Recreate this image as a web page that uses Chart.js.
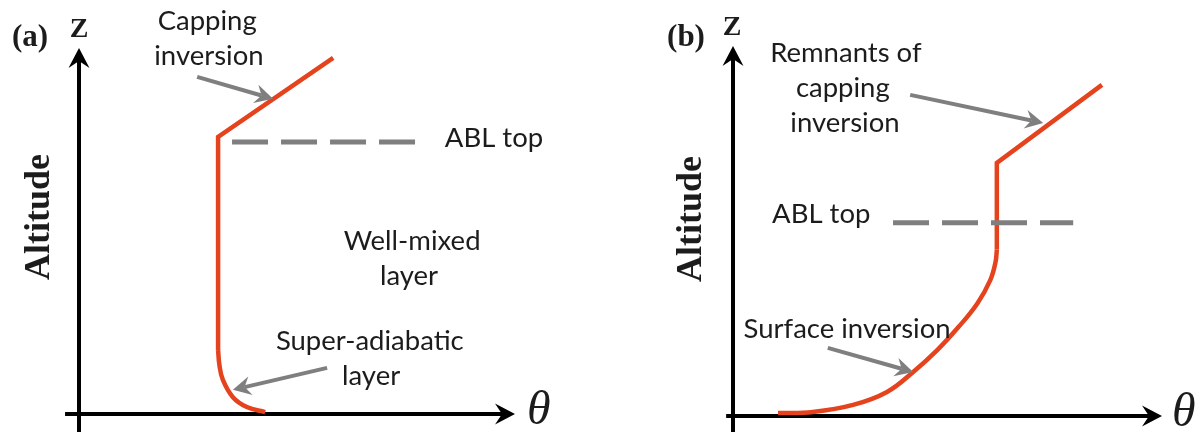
<!DOCTYPE html>
<html>
<head>
<meta charset="utf-8">
<script src="https://cdn.jsdelivr.net/npm/chart.js@4.4.1/dist/chart.umd.min.js"></script>
<style>
  html, body { margin: 0; padding: 0; background: #ffffff; }
  #wrap { position: relative; width: 1203px; height: 432px; overflow: hidden; background: #ffffff; }
  canvas { position: absolute; top: 0; }
  #panelA { left: 0; }
  #panelB { left: 601px; }
</style>
</head>
<body>
<div id="wrap">
  <canvas id="panelA" width="601" height="432"></canvas>
  <canvas id="panelB" width="602" height="432"></canvas>
</div>
<script>
// ---- Panel (a): daytime profile of potential temperature θ against altitude Z ----
const aCurveTheta = [42.7, 38.5, 35.3, 33.0, 32.2, 31.9];   // super-adiabatic layer near ground
const aCurveZ     = [0.5, 1.9, 4.6, 9.3, 13.4, 17.5];
const aUpperTheta = [31.9, 31.9, 58.3];                      // well-mixed layer, then capping inversion
const aUpperZ     = [17.5, 75.7, 97.3];
const aAblTheta   = [35.1, 77.5];                            // ABL top marker
const aAblZ       = [74.3, 74.3];

// ---- Panel (b): night-time profile ----
const bCurveTheta = [10.5, 18.6, 28.0, 35.9, 42.0, 47.6, 52.6, 57.0, 60.0, 61.2, 61.5]; // surface inversion
const bCurveZ     = [0.8, 1.1, 3.0, 6.5, 11.9, 17.8, 24.1, 30.5, 36.8, 41.6, 44.9];
const bUpperTheta = [61.5, 61.5, 86.0];                      // residual layer, remnant capping inversion
const bUpperZ     = [44.9, 68.4, 89.5];
const bAblTheta   = [37.3, 79.3];
const bAblZ       = [52.2, 52.2];

// Text labels
const axisTitleY = 'Altitude';
const axisTitleZ = 'Z';
const axisTitleX = 'θ';
const panelTags  = ['(a)', '(b)'];
const aLabelText = ['Capping', 'inversion', 'ABL top', 'Well-mixed', 'layer', 'Super-adiabatic', 'layer'];
const bLabelText = ['Remnants of', 'capping', 'inversion', 'ABL top', 'Surface inversion'];

const RED = '#e5431d';
const GREY = '#7f7f7f';
const INK = '#1c1c1c';
const SANS = 'Lato, "Open Sans", sans-serif';
const SERIF = '"Liberation Serif", "DejaVu Serif", serif';

function pts(xs, ys) { return xs.map((v, i) => ({ x: v, y: ys[i] })); }

// Filled arrowhead with a notched back, like a drawing-tool "stealth" arrow
function arrow(ctx, x1, y1, x2, y2, width, len, half, notch, color) {
  const a = Math.atan2(y2 - y1, x2 - x1);
  const c = Math.cos(a), s = Math.sin(a);
  const bx = x2 - c * notch, by = y2 - s * notch;
  ctx.strokeStyle = color;
  ctx.lineWidth = width;
  ctx.lineCap = 'butt';
  ctx.beginPath();
  ctx.moveTo(x1, y1);
  ctx.lineTo(bx, by);
  ctx.stroke();
  ctx.fillStyle = color;
  ctx.beginPath();
  ctx.moveTo(x2, y2);
  ctx.lineTo(x2 - c * len - s * half, y2 - s * len + c * half);
  ctx.lineTo(bx, by);
  ctx.lineTo(x2 - c * len + s * half, y2 - s * len - c * half);
  ctx.closePath();
  ctx.fill();
}

// Axes with arrowheads, axis titles, pointer arrows and annotation text
const sketchPlugin = {
  id: 'sketch',
  beforeDatasetsDraw(chart, args, o) {
    const { ctx, scales: { x, y } } = chart;
    ctx.save();
    // θ axis
    arrow(ctx, x.getPixelForValue(o.axisFrom.x), y.getPixelForValue(0),
          x.getPixelForValue(100), y.getPixelForValue(0), 4, 20, 10.5, 13, '#000');
    // Z axis
    arrow(ctx, x.getPixelForValue(0), y.getPixelForValue(o.axisFrom.y),
          x.getPixelForValue(0), y.getPixelForValue(100), 4, 20, 10.5, 13, '#000');
    ctx.restore();
  },
  afterDatasetsDraw(chart, args, o) {
    const { ctx, chartArea: ca, scales: { x, y } } = chart;
    const X = v => x.getPixelForValue(v), Y = v => y.getPixelForValue(v);
    ctx.save();
    // pointer arrows
    o.pointers.forEach(p => arrow(ctx, X(p.from[0]), Y(p.from[1]), X(p.to[0]), Y(p.to[1]), 4, 18, 9.5, 12, GREY));

    // annotation text
    ctx.fillStyle = INK;
    ctx.textBaseline = 'alphabetic';
    ctx.font = '27.5px ' + SANS;
    o.labels.forEach(l => {
      ctx.textAlign = l.align || 'center';
      ctx.fillText(l.text, X(l.at[0]), Y(l.at[1]));
    });

    // panel tag and Z
    ctx.font = 'bold 31px ' + SERIF;
    ctx.textAlign = 'center';
    ctx.fillText(o.tag, ca.left + o.tagDx, ca.top + o.tagDy);
    ctx.font = 'bold 28px ' + SERIF;
    ctx.fillText(axisTitleZ, ca.left + o.zDx, ca.top + o.zDy);

    // θ
    ctx.font = 'italic 48px ' + SERIF;
    ctx.textAlign = 'left';
    ctx.textBaseline = 'middle';
    ctx.fillText(axisTitleX, ca.right + o.thDx, Y(0) - 3);

    // Altitude (rotated)
    ctx.translate(ca.left + o.altDx, ca.top + o.altDy);
    ctx.rotate(-Math.PI / 2);
    ctx.font = 'bold 36px ' + SERIF;
    ctx.textAlign = 'center';
    ctx.textBaseline = 'middle';
    ctx.fillText(axisTitleY, 0, 0);
    ctx.restore();
  }
};

function lineSet(data, tension, extra) {
  return Object.assign({
    data, showLine: true, pointRadius: 0, borderColor: RED, borderWidth: 4.5,
    tension, borderCapStyle: 'butt', borderJoinStyle: 'miter', clip: false, fill: false
  }, extra || {});
}

function makeChart(id, curve, upper, abl, padding, sketch) {
  return new Chart(document.getElementById(id), {
    type: 'scatter',
    data: {
      datasets: [
        lineSet(abl, 0, { borderColor: GREY, borderWidth: 5, borderDash: [36, 13] }),
        lineSet(curve, 0.4),
        lineSet(upper, 0)
      ]
    },
    options: {
      responsive: false,
      devicePixelRatio: 1,
      animation: false,
      events: [],
      layout: { padding },
      scales: {
        x: { type: 'linear', min: 0, max: 100, display: false },
        y: { type: 'linear', min: 0, max: 100, display: false }
      },
      plugins: { legend: { display: false }, tooltip: { enabled: false }, sketch }
    },
    plugins: [sketchPlugin]
  });
}

makeChart('panelA',
  pts(aCurveTheta, aCurveZ), pts(aUpperTheta, aUpperZ), pts(aAblTheta, aAblZ),
  { left: 79, right: 86, top: 48, bottom: 18 },
  {
    axisFrom: { x: -3.2, y: -4.9 },
    tag: panelTags[0], tagDx: -49, tagDy: -2, zDx: 0, zDy: -11,
    altDx: -39, altDy: 169, thDx: 12,
    pointers: [
      { from: [27.1, 92.1], to: [44.5, 86.1] },
      { from: [56.9, 12.6], to: [35.3, 6.6] }
    ],
    labels: [
      { text: aLabelText[0], at: [29.4, 104.9] },
      { text: aLabelText[1], at: [29.8, 95.4] },
      { text: aLabelText[2], at: [83.9, 72.9], align: 'left' },
      { text: aLabelText[3], at: [76.4, 44.8] },
      { text: aLabelText[4], at: [75.7, 35.2] },
      { text: aLabelText[5], at: [66.7, 17.5] },
      { text: aLabelText[6], at: [67.0, 7.9] }
    ]
  });

makeChart('panelB',
  pts(bCurveTheta, bCurveZ), pts(bUpperTheta, bUpperZ), pts(bAblTheta, bAblZ),
  { left: 132, right: 41, top: 46, bottom: 16 },
  {
    axisFrom: { x: -1.6, y: -4.3 },
    tag: panelTags[1], tagDx: -47, tagDy: 0, zDx: -1, zDy: -11,
    altDx: -41, altDy: 173, thDx: 10,
    pointers: [
      { from: [41.3, 86.8], to: [72.3, 79.2] },
      { from: [22.1, 18.4], to: [42.0, 11.9] }
    ],
    labels: [
      { text: bLabelText[0], at: [26.3, 95.7] },
      { text: bLabelText[1], at: [25.6, 86.2] },
      { text: bLabelText[2], at: [26.1, 76.8] },
      { text: bLabelText[3], at: [9.1, 52.2], align: 'left' },
      { text: bLabelText[4], at: [26.6, 21.1] }
    ]
  });
</script>
</body>
</html>
